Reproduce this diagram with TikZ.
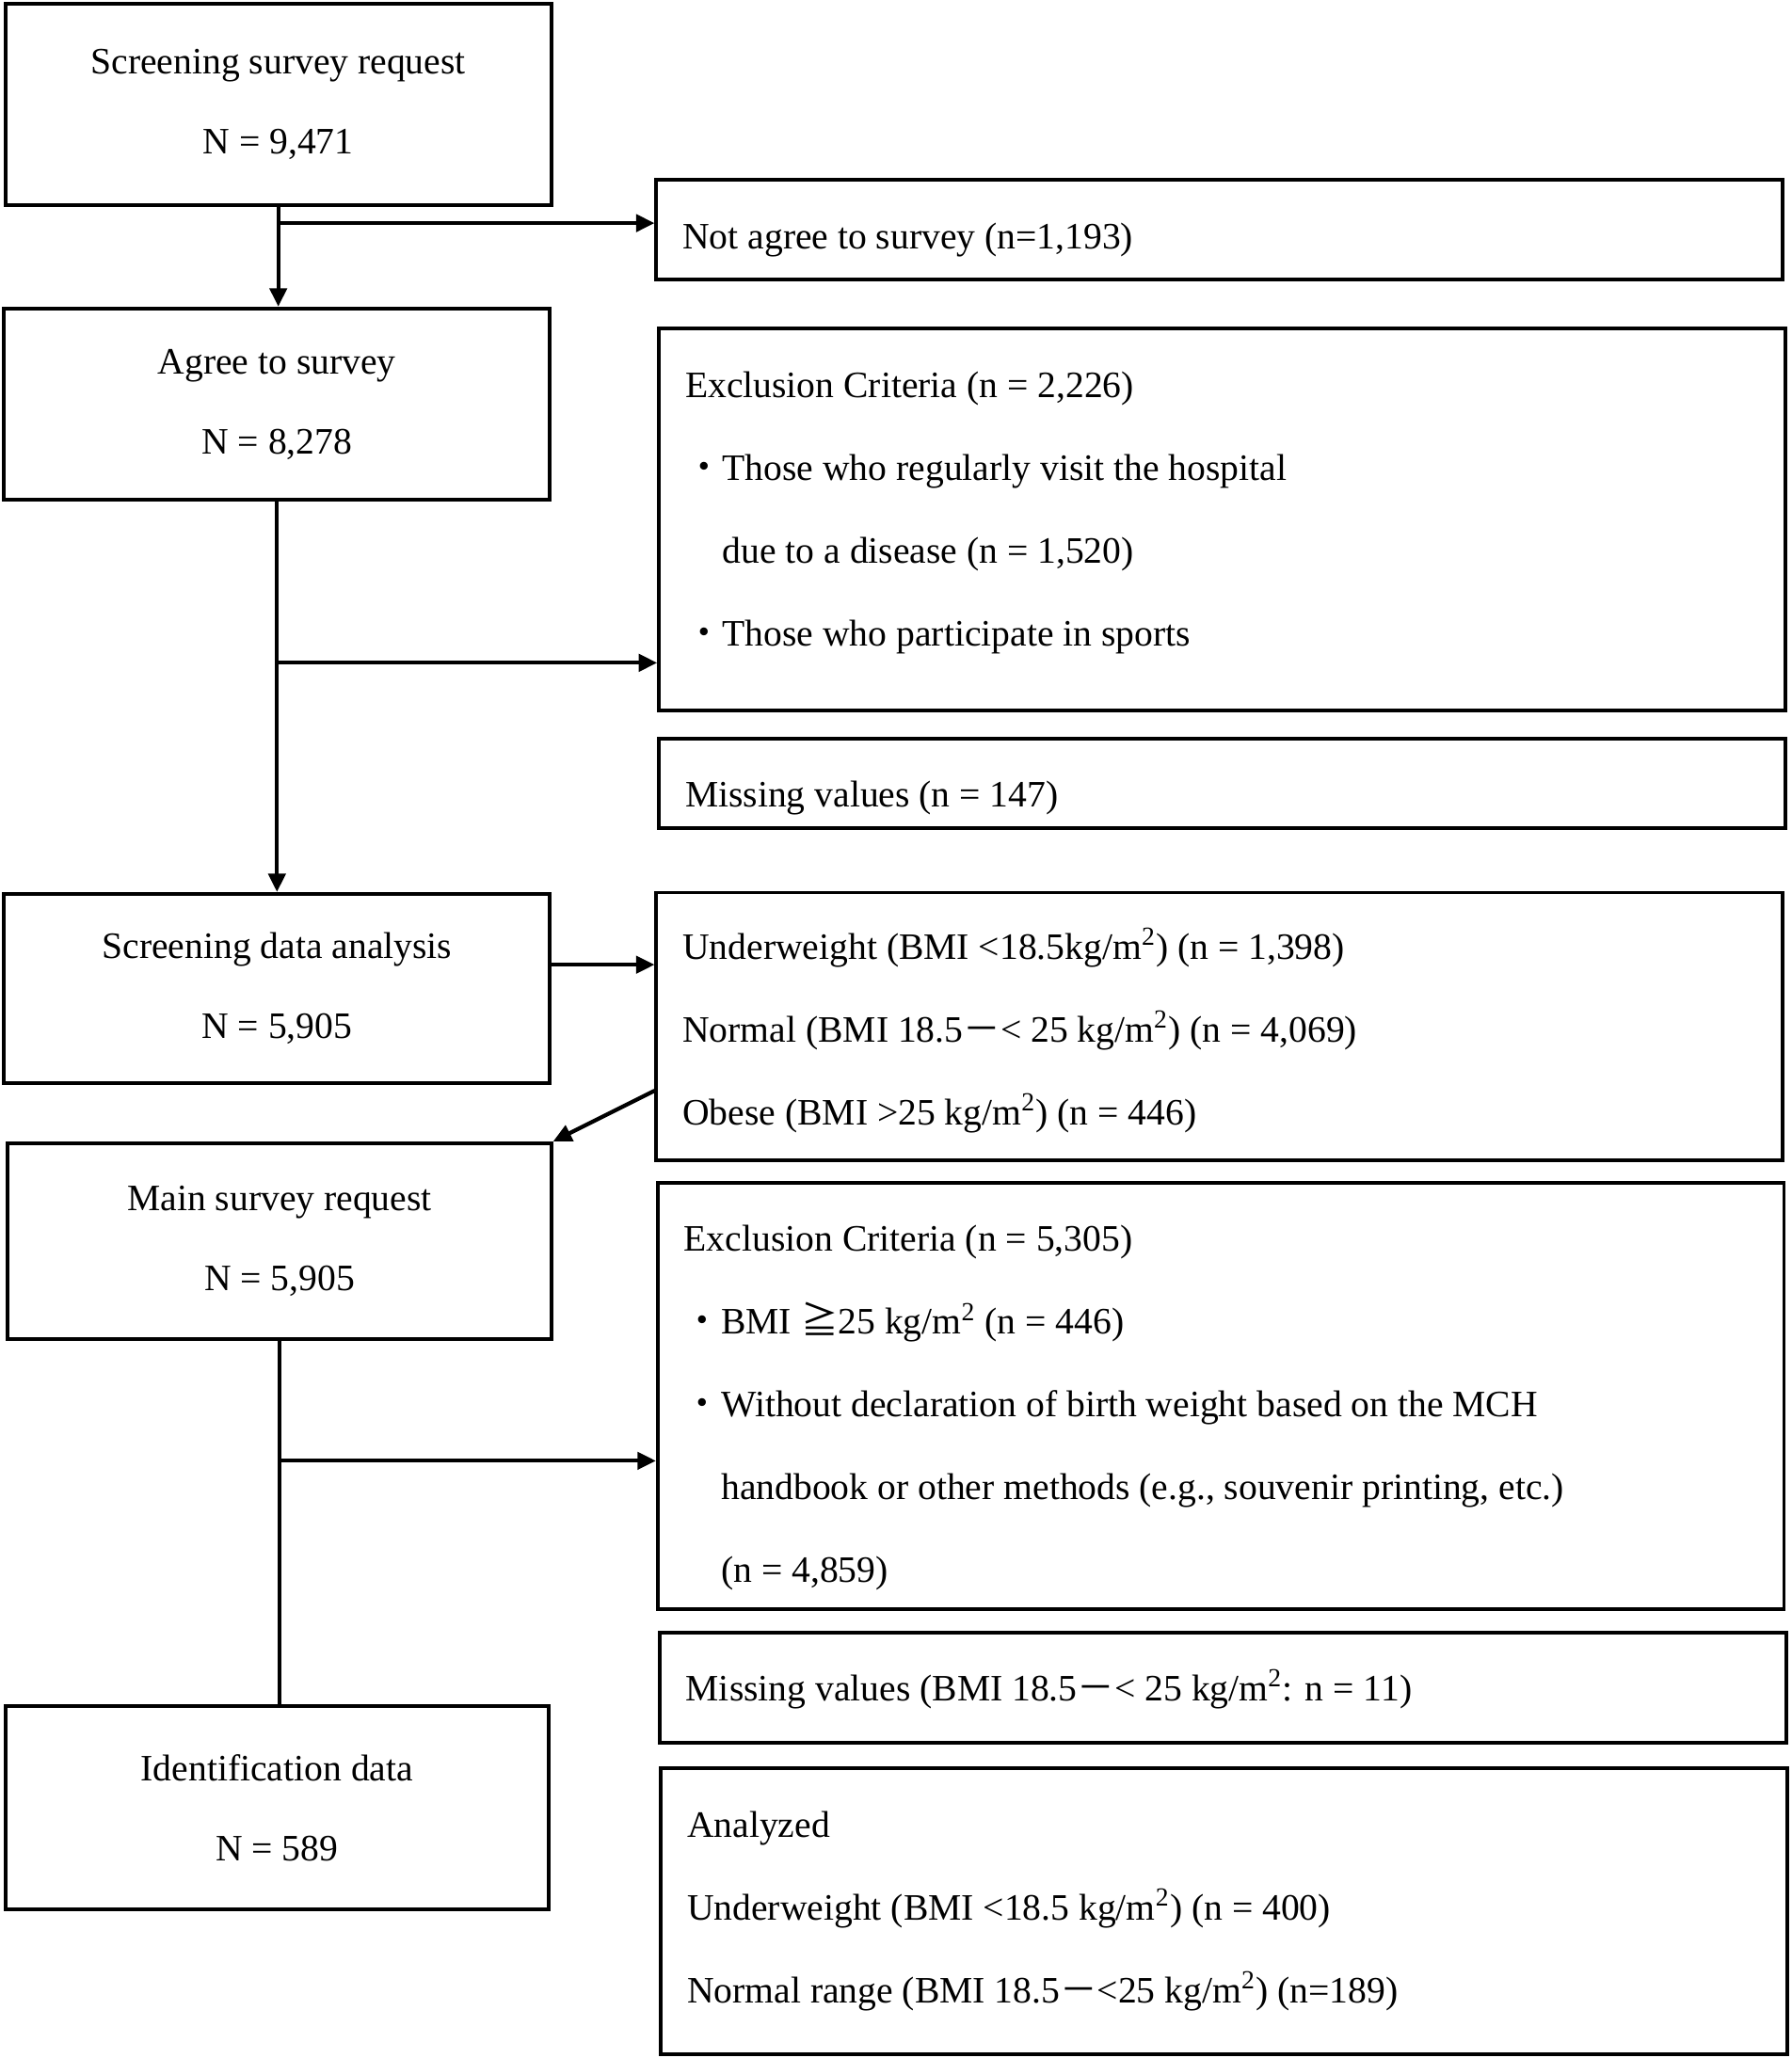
\documentclass[tikz,border=0pt]{standalone}
\usepackage{fontspec}
\setmainfont{Liberation Serif}
\newfontfamily\jpfont{Noto Sans CJK JP}
\usetikzlibrary{arrows.meta}
\newcommand{\jdot}{{\jpfont ・}}
\newcommand{\jgeq}{{\jpfont ≧}}
\newcommand{\jdash}{{\jpfont －}}
\newcommand{\up}[1]{\rule{0pt}{#1}}
\newcommand{\lo}[1]{\rule[-#1]{0pt}{#1}}

\tikzset{
	leftbox/.style={rectangle, draw=black, line width=1.4pt, minimum width=208pt, align=center, inner sep=0pt, font=\fontsize{14.2pt}{30.5pt}\selectfont},
	rightbox/.style={rectangle, draw=black, line width=1.4pt, text width=409pt, inner xsep=10pt, inner ysep=0pt, align=flush left, font=\fontsize{14.2pt}{31.5pt}\selectfont},
	arr/.style={line width=1.5pt, -{Triangle[length=7pt,width=6.5pt]}},
	plain/.style={line width=1.5pt},
}

\begin{document}
\begin{tikzpicture}[x=0.5pt, y=-0.5pt]
	\useasboundingbox (0,0) rectangle (1365,1568);
	% left column
	\node (scr) at (212,79.5)[leftbox, minimum height=76.5pt]{Screening survey request\\N = 9,471};
	\node (agree) at (211,308)[leftbox, minimum height=73pt]{Agree to survey\\N = 8,278};
	\node (sda) at (211,753)[leftbox, minimum height=72pt]{Screening data analysis\\N = 5,905};
	\node (main) at (213,945.5)[leftbox, minimum width=207pt, minimum height=74.5pt]{Main survey request\\N = 5,905};
	\node (ident) at (211,1377.5)[leftbox, minimum width=207pt, minimum height=77.5pt]{Identification data\\N = 589};
	% right column
	\node (notagree) at (929,175)[rightbox, minimum height=38pt]{\up{18pt}Not agree to survey (n=1,193)};
	\node (excl1) at (931,395.5)[rightbox, minimum height=145.5pt]{Exclusion Criteria (n = 2,226)\\\jdot Those who regularly visit the hospital\\\phantom{\jdot}due to a disease (n = 1,520)\\\jdot Those who participate in sports\lo{8pt}};
	\node (miss1) at (931,597)[rightbox, minimum height=34pt]{\up{21pt}Missing values (n = 147)};
	\node (bmi) at (929,782)[rightbox, minimum height=102pt]{\up{15pt}Underweight (BMI <18.5kg/m\textsuperscript{2}) (n = 1,398)\\Normal (BMI 18.5\jdash< 25 kg/m\textsuperscript{2}) (n = 4,069)\\Obese (BMI >25 kg/m\textsuperscript{2}) (n = 446)};
	\node (excl2) at (930,1063.5)[rightbox, minimum height=162.5pt]{\up{19pt}Exclusion Criteria (n = 5,305)\\\jdot BMI \jgeq25 kg/m\textsuperscript{2} (n = 446)\\\jdot Without declaration of birth weight based on the MCH\\\phantom{\jdot}handbook or other methods (e.g., souvenir printing, etc.)\\\phantom{\jdot}(n = 4,859)};
	\node (miss2) at (931.5,1286)[rightbox, minimum height=42pt]{\up{13pt}Missing values (BMI 18.5\jdash< 25 kg/m\textsuperscript{2}: n = 11)};
	\node (anal) at (932.5,1456)[rightbox, minimum height=109pt]{Analyzed\\Underweight (BMI <18.5 kg/m\textsuperscript{2}) (n = 400)\\Normal range (BMI 18.5\jdash<25 kg/m\textsuperscript{2}) (n=189)};
	% connectors
	\coordinate (b1) at (212,170);
	\coordinate (b2) at (212,505);
	\coordinate (b3) at (213,1113);
	\draw[arr] (scr.south) -- (scr.south |- agree.north);
	\draw[arr] (b1) -- (b1 -| notagree.west);
	\draw[arr] (agree.south) -- (agree.south |- sda.north);
	\draw[arr] (b2) -- (b2 -| excl1.west);
	\draw[arr] ([yshift=9pt]sda.east) -- ([yshift=9pt]sda.east -| bmi.west);
	\draw[arr] ([yshift=-24.5pt]bmi.west) -- (main.north east);
	\draw[plain] (main.south) -- (main.south |- ident.north);
	\draw[arr] (b3) -- (b3 -| excl2.west);
\end{tikzpicture}
\end{document}
